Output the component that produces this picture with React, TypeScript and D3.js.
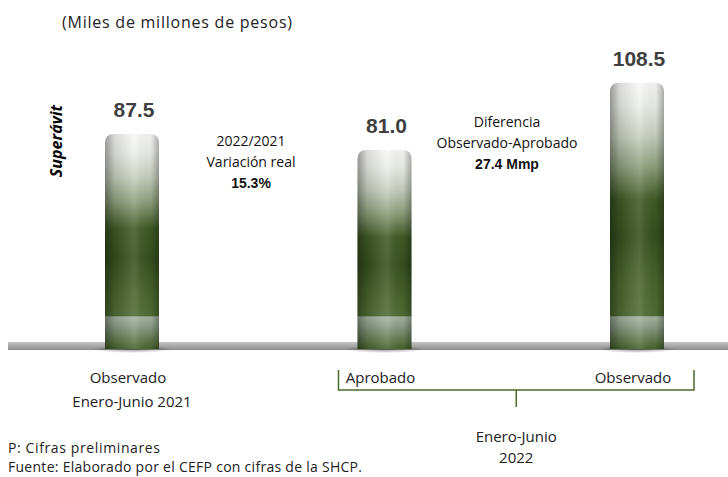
import React from 'react'
import * as d3 from 'd3'

// Superávit enero-junio, miles de millones de pesos
const categories = ['Observado', 'Aprobado', 'Observado']
const values = [87.5, 81.0, 108.5]
const valueLabels = ['87.5', '81.0', '108.5']
const periodLeft = ['Enero-Junio 2021']
const periodRight = ['Enero-Junio', '2022']
const noteVariation = ['2022/2021', 'Variación real', '15.3%']
const noteDiff = ['Diferencia', 'Observado-Aprobado', '27.4 Mmp']
const footNotes = ['P: Cifras preliminares', 'Fuente: Elaborado por el CEFP con cifras de la SHCP.']

const W = 728
const H = 477
const FONT = "'Open Sans', 'DejaVu Sans', sans-serif"
const NUM_FONT = "'Liberation Sans', Arial, sans-serif"
const GREEN = '#4b6a2c'

export default function App() {
  const x = d3.scalePoint<number>().domain([0, 1, 2]).range([132, 637])
  const y = d3.scaleLinear().domain([0, 110]).range([348, 79])
  const barW = 54
  const r = 9

  // rounded-top bar path
  const barPath = (cx: number, top: number, bottom: number) => {
    const p = d3.path()
    const x0 = cx - barW / 2
    const x1 = cx + barW / 2
    p.moveTo(x0, bottom)
    p.lineTo(x0, top + r)
    p.quadraticCurveTo(x0, top, x0 + r, top)
    p.lineTo(x1 - r, top)
    p.quadraticCurveTo(x1, top, x1, top + r)
    p.lineTo(x1, bottom)
    p.closePath()
    return p.toString()
  }

  const bracketL = x(1)! - 46
  const bracketR = x(2)! + 57
  const bracketMid = (bracketL + bracketR) / 2

  return (
    <svg width={W} height={H} style={{ position: 'absolute', left: 0, top: 0, background: '#fff' }}>
      <defs>
        <linearGradient id="floor" x1="0" y1="0" x2="0" y2="1">
          <stop offset="0" stopColor="#c4c4c4" />
          <stop offset="0.5" stopColor="#a9a9a9" />
          <stop offset="1" stopColor="#8e8e8e" />
        </linearGradient>
        <linearGradient id="shade" x1="0" y1="0" x2="1" y2="0">
          <stop offset="0" stopColor="#000" stopOpacity="0.38" />
          <stop offset="0.18" stopColor="#000" stopOpacity="0.12" />
          <stop offset="0.55" stopColor="#fff" stopOpacity="0.12" />
          <stop offset="0.85" stopColor="#000" stopOpacity="0.04" />
          <stop offset="1" stopColor="#000" stopOpacity="0.3" />
        </linearGradient>
        <radialGradient id="foot" cx="0.5" cy="0.5" r="0.5">
          <stop offset="0" stopColor="#000" stopOpacity="0.45" />
          <stop offset="1" stopColor="#000" stopOpacity="0" />
        </radialGradient>
        {values.map((v, i) => {
          const top = y(v)
          const h = y(0) - top
          const b0 = (h - 32) / h
          const b1 = (h - 22) / h
          return (
            <linearGradient key={i} id={`bar${i}`} x1="0" y1="0" x2="0" y2="1">
              <stop offset="0" stopColor="#f8f8f8" />
              <stop offset="0.08" stopColor="#eef0ec" />
              <stop offset="0.2" stopColor="#c9d1c1" />
              <stop offset="0.32" stopColor="#8c9e7a" />
              <stop offset="0.44" stopColor="#3f5a25" />
              <stop offset="0.58" stopColor="#36501f" />
              <stop offset="0.75" stopColor="#4a662d" />
              <stop offset={b0 - 0.005} stopColor="#506d33" />
              <stop offset={b0} stopColor="#a5b5a2" />
              <stop offset={b1} stopColor="#8b9d85" />
              <stop offset="1" stopColor="#456127" />
            </linearGradient>
          )
        })}
      </defs>

      <text x={62} y={28} fontFamily={FONT} fontSize={16} fill="#222" textLength={230} lengthAdjust="spacing">
        (Miles de millones de pesos)
      </text>

      <text
        transform="translate(62,141) rotate(-90)"
        textAnchor="middle"
        fontFamily={FONT}
        fontSize={16}
        fontWeight="bold"
        fontStyle="italic"
        fill="#000"
      >
        Superávit
      </text>

      {/* floor band */}
      <rect x={8} y={342} width={W - 8} height={8} fill="url(#floor)" />

      {values.map((v, i) => {
        const cx = x(i)!
        const top = y(v)
        const bottom = y(0) + 1
        const d = barPath(cx, top, bottom)
        return (
          <g key={i}>
            <ellipse cx={cx} cy={bottom} rx={barW * 0.75} ry={4} fill="url(#foot)" />
            <path d={d} fill={`url(#bar${i})`} />
            <path d={d} fill="url(#shade)" />
            <text
              x={cx + 2}
              y={top - 17}
              textAnchor="middle"
              fontFamily={NUM_FONT}
              fontSize={21}
              fontWeight="bold"
              fill="#3f3f3f"
            >
              {valueLabels[i]}
            </text>
            <text x={cx - 4} y={383} textAnchor="middle" fontFamily={FONT} fontSize={15} fill="#222">
              {categories[i]}
            </text>
          </g>
        )
      })}

      {periodLeft.map((t, i) => (
        <text key={t} x={x(0)} y={407 + i * 21} textAnchor="middle" fontFamily={FONT} fontSize={15} fill="#222">
          {t}
        </text>
      ))}

      {/* variación real note */}
      {noteVariation.map((t, i) => (
        <text
          key={t}
          x={251}
          y={146 + i * 21}
          textAnchor="middle"
          fontFamily={i === 2 ? NUM_FONT : FONT}
          fontSize={14}
          fontWeight={i === 2 ? 'bold' : 'normal'}
          fill="#111"
        >
          {t}
        </text>
      ))}

      {/* diferencia note */}
      {noteDiff.map((t, i) => (
        <text
          key={t}
          x={507}
          y={127 + i * 21}
          textAnchor="middle"
          fontFamily={i === 2 ? NUM_FONT : FONT}
          fontSize={14}
          fontWeight={i === 2 ? 'bold' : 'normal'}
          fill="#111"
        >
          {t}
        </text>
      ))}

      {/* bracket for 2022 */}
      <path
        d={`M${bracketL},370 V390 H${bracketR} V370 M${bracketMid},390 V407`}
        fill="none"
        stroke={GREEN}
        strokeWidth={1.5}
      />
      {periodRight.map((t, i) => (
        <text key={t} x={bracketMid} y={442 + i * 21} textAnchor="middle" fontFamily={FONT} fontSize={15} fill="#222">
          {t}
        </text>
      ))}

      {footNotes.map((t, i) => (
        <text
          key={t}
          x={8}
          y={453 + i * 19}
          fontFamily={FONT}
          fontSize={14}
          fill="#222"
          textLength={i === 0 ? 152 : 354}
          lengthAdjust="spacing"
        >
          {t}
        </text>
      ))}
    </svg>
  )
}
